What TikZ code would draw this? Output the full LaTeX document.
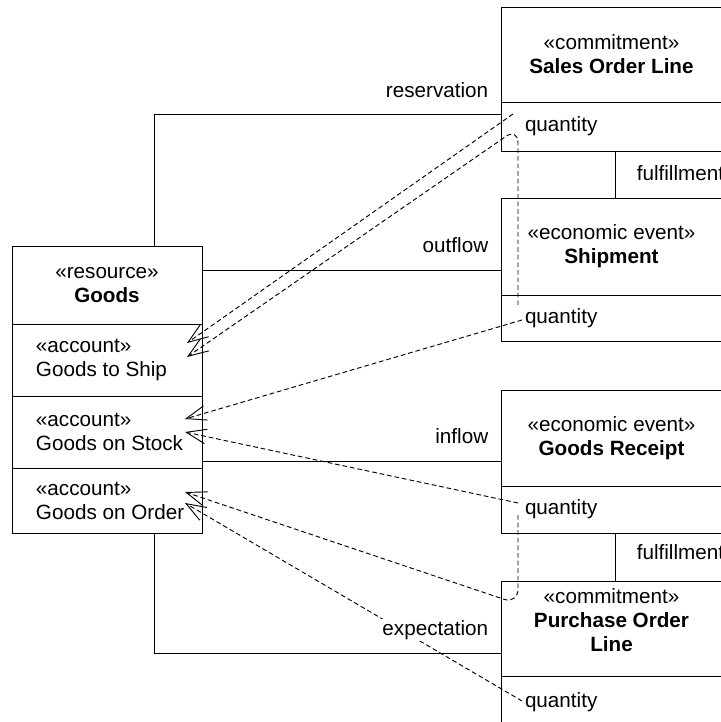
\documentclass[tikz,border=0pt]{standalone}
\usepackage{fontspec}
\setmainfont{Liberation Sans}
\usetikzlibrary{arrows.meta, positioning, fit}

\tikzset{
  umltext/.style={font=\fontsize{15.5}{18}\selectfont, inner sep=1pt},
  compart/.style={draw, inner sep=0pt, fit={#1}},
  title/.style={umltext, align=center},
  attr/.style={umltext, anchor=west, align=left, xshift=17pt},
  rolelabel/.style={umltext, anchor=base east},
  depends/.style={dash pattern=on 3.5pt off 2.2pt, -{Straight Barb[length=15pt, width=11pt]}}
}

\begin{document}
\begin{tikzpicture}[x=0.75pt, y=-0.75pt, line width=0.7pt]
  \useasboundingbox (0,0) rectangle (721,722);
  \clip (0,0) rectangle (721,722);

  % Goods with its accounts
  \node[compart={(12,246) (202,324)}] (goodsHead) {};
  \node[compart={(12,324) (202,396)}] (goodsShip) {};
  \node[compart={(12,396) (202,468)}] (goodsStock) {};
  \node[compart={(12,468) (202,533)}] (goodsOrder) {};
  \node[title] (goodsTitle) at (goodsHead) {«resource»\\\textbf{Goods}};
  \node[attr] (shipAcc) at (goodsShip.west) {«account»\\Goods to Ship};
  \node[attr] (stockAcc) at (goodsStock.west) {«account»\\Goods on Stock};
  \node[attr] (orderAcc) at (goodsOrder.west) {«account»\\Goods on Order};

  % commitments and events
  \node[compart={(501,7) (722,102)}] (salesHead) {};
  \node[compart={(501,102) (722,151)}] (salesQty) {};
  \node[compart={(501,198) (722,295)}] (shipHead) {};
  \node[compart={(501,295) (722,341)}] (shipQty) {};
  \node[compart={(501,390) (722,486)}] (receiptHead) {};
  \node[compart={(501,486) (722,533)}] (receiptQty) {};
  \node[compart={(501,581) (722,676)}] (purchaseHead) {};
  \node[compart={(501,676) (722,740)}] (purchaseQty) {};

  \node[title] (salesTitle) at (salesHead) {«commitment»\\\textbf{Sales Order Line}};
  \node[title] (shipTitle) at (shipHead) {«economic event»\\\textbf{Shipment}};
  \node[title] (receiptTitle) at (receiptHead) {«economic event»\\\textbf{Goods Receipt}};
  \node[title] (purchaseTitle) at ([yshift=6pt]purchaseHead.center) {«commitment»\\\textbf{Purchase Order}\\\textbf{Line}};
  \node[attr] (salesAttr) at (salesQty.west) {quantity};
  \node[attr] (shipAttr) at (shipQty.west) {quantity};
  \node[attr] (receiptAttr) at (receiptQty.west) {quantity};
  \node[attr, yshift=4.5pt] (purchaseAttr) at (purchaseQty.west) {quantity};

  % associations
  \coordinate (resBend) at (154,114);
  \coordinate (outRow) at (0,270);
  \coordinate (inRow) at (0,461);
  \coordinate (expBend) at (154,653);
  \coordinate (fulX) at (615,0);
  \draw (goodsHead.north -| resBend) -- (resBend) -- (resBend -| salesQty.west);
  \draw (outRow -| goodsHead.east) -- (outRow -| shipHead.west);
  \draw (inRow -| goodsStock.east) -- (inRow -| receiptHead.west);
  \draw (goodsOrder.south -| expBend) -- (expBend) -- (expBend -| purchaseHead.west);
  \draw (salesQty.south -| fulX) -- (shipHead.north -| fulX);
  \draw (receiptQty.south -| fulX) -- (purchaseHead.north -| fulX);

  % quantity dependencies
  \coordinate (tipShipA) at (187,343);
  \coordinate (tipShipB) at (187,357);
  \coordinate (tipStockA) at (185,419);
  \coordinate (tipStockB) at (185,432);
  \coordinate (tipOrderA) at (185,492);
  \coordinate (tipOrderB) at (185,503);
  \coordinate (salesFrom) at (513,114);
  \coordinate (shipUp) at (518,305);
  \coordinate (shipTurn) at (518,128);
  \coordinate (shipFrom) at (522,320);
  \coordinate (receiptFrom) at (518,503);
  \coordinate (receiptDown) at (518,515);
  \coordinate (receiptTurn) at (518,604);
  \coordinate (purchaseFrom) at (522,701);
  \draw[depends] (salesFrom) -- (tipShipA);
  \draw[depends, rounded corners=11pt] (shipUp) -- (shipTurn) -- (tipShipB);
  \draw[depends] (shipFrom) -- (tipStockA);
  \draw[depends] (receiptFrom) -- (tipStockB);
  \draw[depends, rounded corners=11pt] (receiptDown) -- (receiptTurn) -- (tipOrderA);
  \draw[depends] (purchaseFrom) -- (tipOrderB);

  % role labels
  \node[rolelabel] (reservationLbl) at (490,97) {reservation};
  \node[rolelabel] (outflowLbl) at (490,252) {outflow};
  \node[rolelabel] (inflowLbl) at (490,443) {inflow};
  \node[rolelabel, fill=white] (expectationLbl) at (490,635) {expectation};
  \node[umltext, anchor=base west] (fulfillSales) at (635,180) {fulfillment};
  \node[umltext, anchor=base west] (fulfillPurchase) at (635,559) {fulfillment};
\end{tikzpicture}
\end{document}
